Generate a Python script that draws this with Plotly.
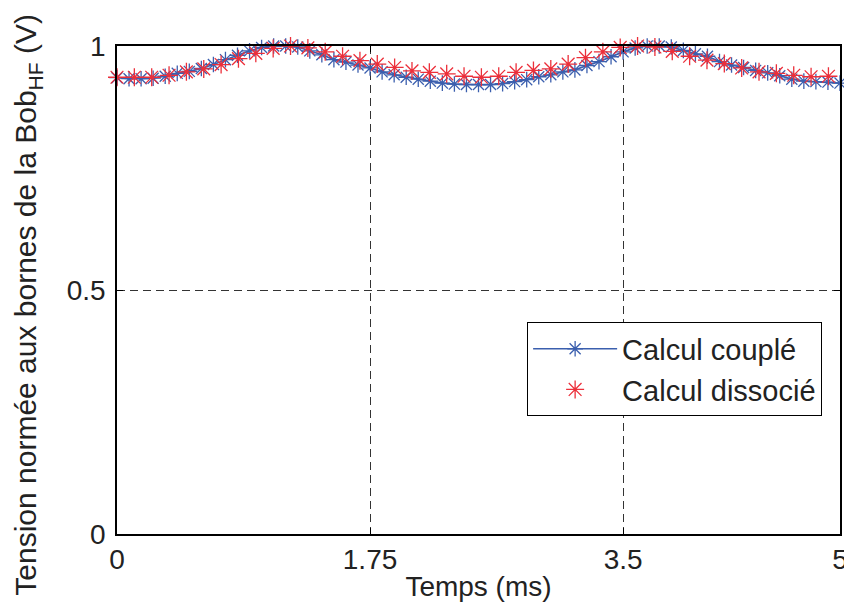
import numpy as np
import plotly.graph_objects as go

# Calcul couplé : pas de 1/12 ms
t_couple = np.round(np.arange(61) / 12, 4)
v_couple = [0.935, 0.933, 0.933, 0.934, 0.938, 0.944, 0.948, 0.954, 0.962, 0.972,
            0.981, 0.990, 0.997, 1.000, 1.000, 0.998, 0.990, 0.982, 0.972, 0.967,
            0.961, 0.955, 0.947, 0.941, 0.936, 0.932, 0.928, 0.924, 0.922, 0.921,
            0.921, 0.921, 0.923, 0.927, 0.931, 0.937, 0.941, 0.947, 0.951, 0.960,
            0.968, 0.978, 0.988, 0.996, 1.000, 1.000, 0.998, 0.991, 0.984, 0.979,
            0.968, 0.961, 0.956, 0.950, 0.945, 0.939, 0.932, 0.928, 0.927, 0.926,
            0.924]

# Calcul dissocié : pas de 0.12 ms
t_dissocie = np.round(np.arange(42) * 0.12, 2)
v_dissocie = [0.936, 0.936, 0.936, 0.940, 0.947, 0.953, 0.962, 0.974, 0.985, 0.995,
              1.000, 0.996, 0.988, 0.979, 0.970, 0.963, 0.956, 0.949, 0.946, 0.943,
              0.938, 0.936, 0.938, 0.946, 0.950, 0.953, 0.963, 0.976, 0.988, 0.997,
              1.000, 0.998, 0.989, 0.979, 0.971, 0.964, 0.955, 0.947, 0.944, 0.940,
              0.937, 0.938]

x_ticks = [0, 1.75, 3.5, 5]
x_labels = ["0", "1.75", "3.5", "5"]
y_ticks = [0, 0.5, 1]
y_labels = ["0", "0.5", "1"]

bleu = "#3b5fae"
rouge = "#ec2f3a"

fig = go.Figure()
fig.add_trace(go.Scatter(
    x=t_couple, y=v_couple, mode="lines+markers", name="Calcul couplé",
    line=dict(color=bleu, width=1.7), cliponaxis=False,
    marker=dict(symbol="asterisk-open", size=13, color=bleu, line=dict(color=bleu, width=1.3)),
))
fig.add_trace(go.Scatter(
    x=t_dissocie, y=v_dissocie, mode="markers", name="Calcul dissocié", cliponaxis=False,
    marker=dict(symbol="asterisk-open", size=15, color=rouge, line=dict(color=rouge, width=1.3)),
))

police = "Liberation Sans, Arial, sans-serif"

# la page html ajoute une marge de 8 px : on réduit la figure d'autant
fig.update_layout(
    width=844, height=598,
    paper_bgcolor="white", plot_bgcolor="white",
    margin=dict(l=109, r=12, t=38, b=72),
    font=dict(family=police, size=28, color="#222"),
    showlegend=True,
    legend=dict(
        x=0.975, y=0.434, xanchor="right", yanchor="top",
        bgcolor="white", bordercolor="black", borderwidth=1.2,
        font=dict(family=police, size=29, color="#222"),
        itemwidth=84, tracegroupgap=0,
    ),
)

# titre de l'axe y en annotation, un peu plus bas que le centre du graphe
fig.add_annotation(
    text="Tension normée aux bornes de la Bob<sub>HF</sub> (V)",
    xref="paper", yref="paper", x=-0.123, y=0.47,
    xanchor="center", yanchor="middle", textangle=-90,
    showarrow=False, font=dict(family=police, size=30, color="#222"),
)

fig.update_xaxes(
    range=[0, 5], tickvals=x_ticks, ticktext=x_labels,
    showline=True, linecolor="black", linewidth=1.5, mirror="ticks",
    ticks="inside", ticklen=6, tickcolor="black",
    showgrid=True, gridcolor="#333", griddash="8px,5px", gridwidth=0.9,
    zeroline=False, automargin=False,
    tickfont=dict(size=28),
    title=dict(text="Temps (ms)", standoff=2, font=dict(size=28)),
)
fig.update_yaxes(
    range=[0, 1], tickvals=y_ticks, ticktext=y_labels,
    showline=True, linecolor="black", linewidth=1.5, mirror="ticks",
    ticks="inside", ticklen=6, tickcolor="black",
    showgrid=True, gridcolor="#333", griddash="8px,5px", gridwidth=0.9,
    zeroline=False, automargin=False,
    tickfont=dict(size=28), ticklabelstandoff=4,
)

fig.write_html("out.html")
